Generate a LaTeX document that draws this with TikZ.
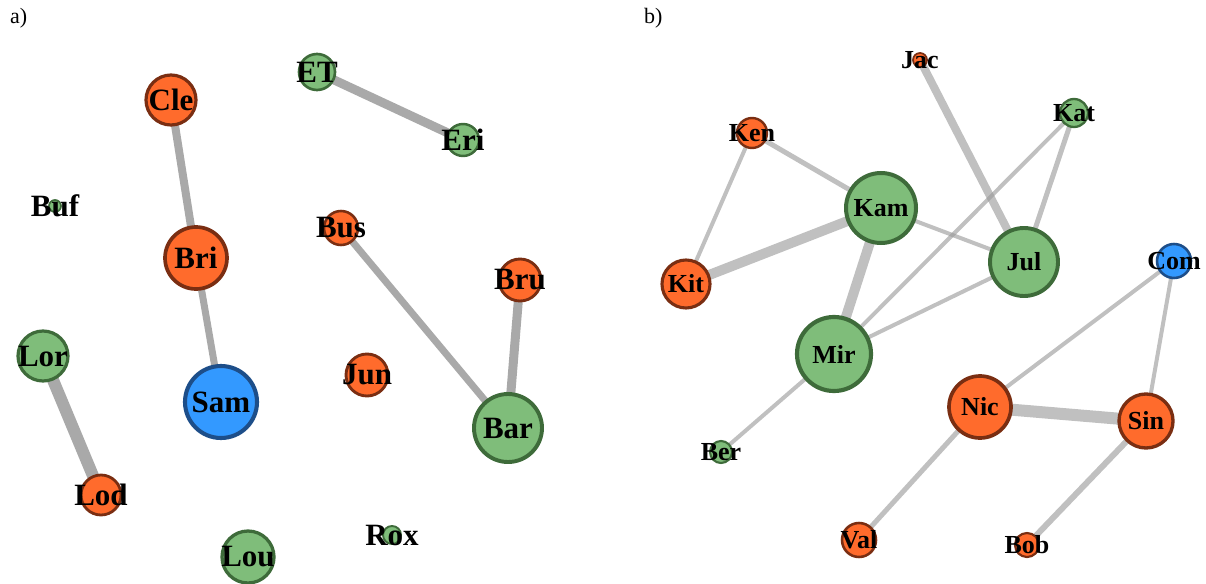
\documentclass[tikz,border=0pt]{standalone}
\usepackage{fontspec}
\setmainfont{Liberation Serif}
\usetikzlibrary{backgrounds}
\definecolor{orf}{HTML}{FF6B2C}
\definecolor{ord}{HTML}{7A2E12}
\definecolor{grf}{HTML}{7FBD7A}
\definecolor{grd}{HTML}{3E6B3A}
\definecolor{blf}{HTML}{3399FF}
\definecolor{bld}{HTML}{1D4E89}
\definecolor{edgea}{HTML}{A9A9A9}
\definecolor{edgeb}{HTML}{999999}
\tikzset{
  vtx/.style={circle,inner sep=0pt,outer sep=0pt},
  orv/.style={vtx,fill=orf,draw=ord},
  grv/.style={vtx,fill=grf,draw=grd},
  blv/.style={vtx,fill=blf,draw=bld},
  laba/.style={font=\fontsize{31}{31}\selectfont\bfseries,text=black,inner sep=0pt},
  labb/.style={font=\fontsize{26}{26}\selectfont\bfseries,text=black,inner sep=0pt},
  ea/.style={draw=edgea,line cap=butt},
  eb/.style={draw=edgeb,opacity=0.62,line cap=butt},
  panel/.style={font=\fontsize{22}{22}\selectfont,inner sep=0pt,anchor=north west}
}
\newcommand{\vA}[5]{\node[#1,minimum size=#5*2pt,line width={1.2pt+#5*0.08pt},label={[laba]center:#2}] (#2) at (#3,#4) {};}
\newcommand{\vB}[5]{\node[#1,minimum size=#5*2pt,line width={1.2pt+#5*0.08pt},label={[labb]center:#2}] (#2) at (#3,#4) {};}
\begin{document}
\begin{tikzpicture}[x=1pt,y=-1pt]
\useasboundingbox (0,0) rectangle (1206,583);
\node[panel] (pa) at (10,8) {a)};
\node[panel] (pb) at (644,8) {b)};
% panel a
\vA{orv}{Cle}{171}{100}{25}
\vA{grv}{ET}{317}{72}{18}
\vA{grv}{Eri}{463}{140}{16}
\vA{grv}{Buf}{55}{206}{6}
\vA{orv}{Bri}{196}{258}{31}
\vA{orv}{Bus}{341}{228}{17}
\vA{orv}{Bru}{520}{280}{21}
\vA{grv}{Lor}{43}{356}{25}
\vA{blv}{Sam}{221}{402}{36}
\vA{orv}{Jun}{367}{375}{21}
\vA{grv}{Bar}{508}{428}{34}
\vA{orv}{Lod}{101}{495}{20}
\vA{grv}{Rox}{392}{535}{9}
\vA{grv}{Lou}{248}{557}{26}
% panel b
\vB{orv}{Jac}{920}{60}{7}
\vB{orv}{Ken}{752}{133}{15}
\vB{grv}{Kat}{1074}{113}{14}
\vB{grv}{Kam}{881}{208}{35}
\vB{grv}{Jul}{1024}{262}{34}
\vB{orv}{Kit}{686}{284}{24}
\vB{blv}{Com}{1174}{261}{17}
\vB{grv}{Mir}{834}{354}{37}
\vB{orv}{Nic}{980}{407}{31}
\vB{orv}{Sin}{1146}{421}{27}
\vB{grv}{Ber}{721}{452}{11}
\vB{orv}{Val}{859}{540}{17}
\vB{orv}{Bob}{1027}{545}{12}
\begin{scope}[on background layer]
\draw[ea,line width=8pt] (Cle.center) -- (Bri.center);
\draw[ea,line width=9pt] (ET.center) -- (Eri.center);
\draw[ea,line width=7pt] (Bri.center) -- (Sam.center);
\draw[ea,line width=7pt] (Bus.center) -- (Bar.center);
\draw[ea,line width=9pt] (Bru.center) -- (Bar.center);
\draw[ea,line width=12pt] (Lor.center) -- (Lod.center);
\draw[eb,line width=5pt] (Ken.center) -- (Kam.center);
\draw[eb,line width=4pt] (Ken.center) -- (Kit.center);
\draw[eb,line width=10pt] (Kit.center) -- (Kam.center);
\draw[eb,line width=10pt] (Kam.center) -- (Mir.center);
\draw[eb,line width=4pt] (Kam.center) -- (Jul.center);
\draw[eb,line width=8pt] (Jac.center) -- (Jul.center);
\draw[eb,line width=5pt] (Kat.center) -- (Jul.center);
\draw[eb,line width=4pt] (Kat.center) -- (Mir.center);
\draw[eb,line width=4pt] (Jul.center) -- (Mir.center);
\draw[eb,line width=4pt] (Mir.center) -- (Ber.center);
\draw[eb,line width=4pt] (Com.center) -- (Nic.center);
\draw[eb,line width=4pt] (Com.center) -- (Sin.center);
\draw[eb,line width=12pt] (Nic.center) -- (Sin.center);
\draw[eb,line width=5pt] (Nic.center) -- (Val.center);
\draw[eb,line width=6pt] (Sin.center) -- (Bob.center);
\end{scope}
\end{tikzpicture}
\end{document}
